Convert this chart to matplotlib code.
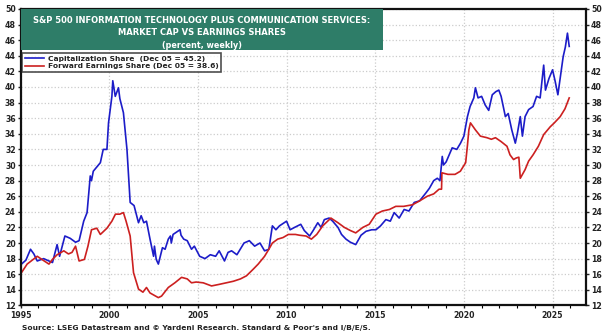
import matplotlib.pyplot as plt
from matplotlib.patches import Rectangle
from matplotlib.ticker import MultipleLocator

# market cap share of S&P 500 (percent), read weekly-ish
cap_years = [1995.05, 1995.3, 1995.56, 1995.75, 1995.94, 1996.3, 1996.8, 1997.06, 1997.2, 1997.5,
             1997.8, 1998.1, 1998.3, 1998.56, 1998.75, 1998.93, 1999.0, 1999.1, 1999.5, 1999.66,
             1999.87, 1999.96, 2000.15, 2000.2, 2000.34, 2000.52, 2000.6, 2000.8, 2001.0, 2001.18,
             2001.4, 2001.65, 2001.8, 2001.95, 2002.1, 2002.3, 2002.5, 2002.55, 2002.65, 2002.77,
             2003.0, 2003.15, 2003.33, 2003.45, 2003.5, 2003.6, 2003.99, 2004.05, 2004.2, 2004.4,
             2004.64, 2004.8, 2005.1, 2005.4, 2005.7, 2006.0, 2006.2, 2006.5, 2006.7, 2006.9,
             2007.2, 2007.6, 2007.9, 2008.2, 2008.5, 2008.76, 2009.0, 2009.2, 2009.4, 2009.6,
             2010.0, 2010.2, 2010.45, 2010.8, 2011.0, 2011.3, 2011.5, 2011.76, 2011.95, 2012.13,
             2012.4, 2012.6, 2012.9, 2013.1, 2013.35, 2013.6, 2013.9, 2014.2, 2014.48, 2014.8,
             2015.04, 2015.3, 2015.6, 2015.85, 2016.07, 2016.35, 2016.63, 2016.9, 2017.2, 2017.5,
             2017.85, 2018.05, 2018.3, 2018.5, 2018.65, 2018.78, 2018.85, 2019.0, 2019.34, 2019.6,
             2019.81, 2020.0, 2020.2, 2020.35, 2020.56, 2020.65, 2020.8, 2021.0, 2021.2, 2021.4,
             2021.6, 2021.8, 2021.97, 2022.1, 2022.34, 2022.5, 2022.7, 2022.9, 2023.02, 2023.18,
             2023.3, 2023.45, 2023.65, 2023.9, 2024.1, 2024.3, 2024.5, 2024.6, 2024.8, 2025.0,
             2025.15, 2025.3, 2025.45, 2025.6, 2025.72, 2025.84, 2025.94]
cap_share = [17.3, 17.8, 19.2, 18.6, 17.7, 18.0, 17.5, 19.8, 18.3, 20.9,
             20.6, 20.1, 20.3, 22.8, 23.9, 28.6, 28.0, 29.2, 30.3, 32.0,
             32.0, 35.4, 38.8, 40.8, 38.8, 39.9, 38.5, 36.7, 32.0, 25.2,
             24.8, 22.6, 23.5, 22.6, 22.8, 20.5, 18.3, 19.6, 17.9, 17.3,
             19.4, 19.2, 20.5, 20.9, 20.0, 21.1, 21.7, 21.0, 20.5, 20.3,
             19.2, 19.6, 18.3, 18.0, 18.5, 18.3, 19.0, 17.7, 18.8, 19.0,
             18.5, 20.0, 20.3, 19.6, 20.0, 19.0, 19.2, 22.2, 21.7, 22.2,
             22.8, 21.7, 22.0, 22.4, 21.6, 20.9, 21.6, 22.6, 22.0, 23.0,
             23.2, 22.8, 22.0, 21.1, 20.5, 20.1, 19.8, 21.0, 21.5, 21.7,
             21.7, 22.2, 23.0, 22.8, 23.9, 23.2, 24.3, 24.1, 25.2, 25.4,
             26.4, 27.0, 28.0, 28.3, 28.0, 31.1, 30.0, 30.4, 32.2, 32.0,
             32.8, 33.7, 36.2, 37.5, 38.6, 39.9, 38.6, 38.8, 37.7, 37.0,
             39.0, 39.4, 39.6, 38.8, 36.2, 36.6, 34.5, 32.8, 34.1, 36.2,
             33.7, 36.2, 37.1, 37.5, 38.8, 38.6, 42.8, 39.6, 41.1, 42.2,
             40.7, 39.0, 41.5, 43.9, 45.1, 46.9, 45.2]

# forward earnings share of S&P 500 (percent)
earn_years = [1995.05, 1995.37, 1995.94, 1996.2, 1996.6, 1996.8, 1997.06, 1997.44, 1997.7, 1997.9,
              1998.1, 1998.3, 1998.6, 1998.8, 1999.0, 1999.3, 1999.5, 1999.87, 2000.15, 2000.35,
              2000.6, 2000.8, 2000.95, 2001.18, 2001.37, 2001.65, 2001.9, 2002.1, 2002.3, 2002.77,
              2002.95, 2003.33, 2003.7, 2004.08, 2004.4, 2004.64, 2004.9, 2005.3, 2005.77, 2006.2,
              2006.6, 2007.0, 2007.4, 2007.74, 2008.1, 2008.4, 2008.76, 2009.0, 2009.2, 2009.5,
              2009.8, 2010.1, 2010.5, 2010.73, 2011.1, 2011.4, 2011.7, 2012.04, 2012.5, 2012.9,
              2013.26, 2013.6, 2013.9, 2014.3, 2014.66, 2015.04, 2015.4, 2015.8, 2016.16, 2016.6,
              2017.1, 2017.5, 2017.94, 2018.3, 2018.6, 2018.74, 2018.76, 2019.1, 2019.5, 2019.8,
              2020.1, 2020.2, 2020.28, 2020.37, 2020.65, 2020.93, 2021.3, 2021.55, 2021.78, 2022.1,
              2022.43, 2022.6, 2022.8, 2022.95, 2023.1, 2023.18, 2023.45, 2023.65, 2023.9, 2024.2,
              2024.5, 2024.87, 2025.1, 2025.43, 2025.7, 2025.94]
earn_share = [16.2, 17.3, 18.3, 17.9, 17.3, 17.9, 18.5, 19.0, 18.6, 18.8,
              19.6, 17.7, 17.9, 19.6, 21.7, 21.9, 21.1, 21.9, 22.8, 23.7,
              23.7, 23.9, 22.8, 20.9, 16.2, 14.1, 13.7, 14.3, 13.6, 13.0,
              13.2, 14.3, 14.9, 15.6, 15.4, 14.9, 15.0, 14.9, 14.5, 14.7,
              14.9, 15.1, 15.4, 15.8, 16.6, 17.3, 18.3, 19.2, 20.0, 20.5,
              20.7, 21.1, 21.1, 21.0, 20.9, 20.5, 21.1, 22.2, 23.2, 22.6,
              22.0, 21.6, 21.3, 22.0, 22.4, 23.7, 24.1, 24.3, 24.7, 24.7,
              24.9, 25.4, 26.0, 26.3, 26.9, 26.9, 29.0, 28.8, 28.8, 29.2,
              30.3, 32.5, 34.5, 35.4, 34.5, 33.7, 33.5, 33.3, 33.5, 33.0,
              32.4, 31.3, 30.7, 30.9, 31.0, 28.3, 29.4, 30.5, 31.3, 32.4,
              33.9, 34.9, 35.4, 36.2, 37.2, 38.6]

y_ticks = list(range(12, 51, 2))
x_ticks = [1995, 2000, 2005, 2010, 2015, 2020, 2025]

plt.rcParams['font.family'] = ['DejaVu Sans']
dark = '#222222'

fig = plt.figure(figsize=(6.05, 3.32), dpi=100)
ax = fig.add_axes([0.034, 0.08, 0.935, 0.893])

ax.plot(cap_years, cap_share, color='#1c1cc8', lw=1.2,
        label='Capitalization Share  (Dec 05 = 45.2)')
ax.plot(earn_years, earn_share, color='#cc2020', lw=1.2,
        label='Forward Earnings Share (Dec 05 = 38.6)')

ax.set_xlim(1995, 2026.9)
ax.set_ylim(12, 50)
ax.set_xticks(x_ticks)
ax.xaxis.set_minor_locator(MultipleLocator(1))
ax.set_yticks(y_ticks)
ax.tick_params(axis='both', which='major', labelsize=5.6, colors=dark, length=2.5, width=1)
ax.tick_params(axis='y', right=True, labelright=True, pad=1)
ax.tick_params(axis='x', pad=1.5)
ax.tick_params(axis='x', which='minor', length=2, width=0.8)
for t in ax.yaxis.get_major_ticks():
    t.label1.set_fontweight('bold')
    t.label2.set_fontweight('bold')
for lab in ax.get_xticklabels():
    lab.set_fontweight('bold')

ax.grid(True, color='#cccccc', linestyle=':', linewidth=0.9)
for s in ax.spines.values():
    s.set_linewidth(1.6)
    s.set_color('#111111')

# green title block in top left corner
ax.add_patch(Rectangle((0, 0.862), 0.64, 0.138, transform=ax.transAxes,
                       facecolor='#2e7d68', edgecolor='none', zorder=5))
ax.text(0.32, 0.962, 'S&P 500 INFORMATION TECHNOLOGY PLUS COMMUNICATION SERVICES:',
        transform=ax.transAxes, ha='center', va='center', color='white',
        fontsize=6.0, fontweight='bold', zorder=6)
ax.text(0.32, 0.92, 'MARKET CAP VS EARNINGS SHARES', transform=ax.transAxes,
        ha='center', va='center', color='white', fontsize=6.0, fontweight='bold', zorder=6)
ax.text(0.32, 0.878, '(percent, weekly)', transform=ax.transAxes,
        ha='center', va='center', color='white', fontsize=5.8, fontweight='bold', zorder=6)

leg = ax.legend(loc='upper left', bbox_to_anchor=(0.0, 0.857), fontsize=5.4,
                frameon=True, fancybox=False, borderpad=0.35, labelspacing=0.2,
                handlelength=2.6, handletextpad=0.5, borderaxespad=0.2)
leg.get_frame().set_edgecolor('#222222')
leg.get_frame().set_linewidth(1.2)
leg.set_zorder(6)
for t in leg.get_texts():
    t.set_fontweight('bold')
    t.set_color(dark)

fig.text(0.036, 0.004, "Source: LSEG Datastream and \u00a9 Yardeni Research. Standard & Poor's and I/B/E/S.",
         fontsize=5.4, fontweight='bold', color=dark, ha='left', va='bottom')

plt.savefig('out.png', dpi=100)
